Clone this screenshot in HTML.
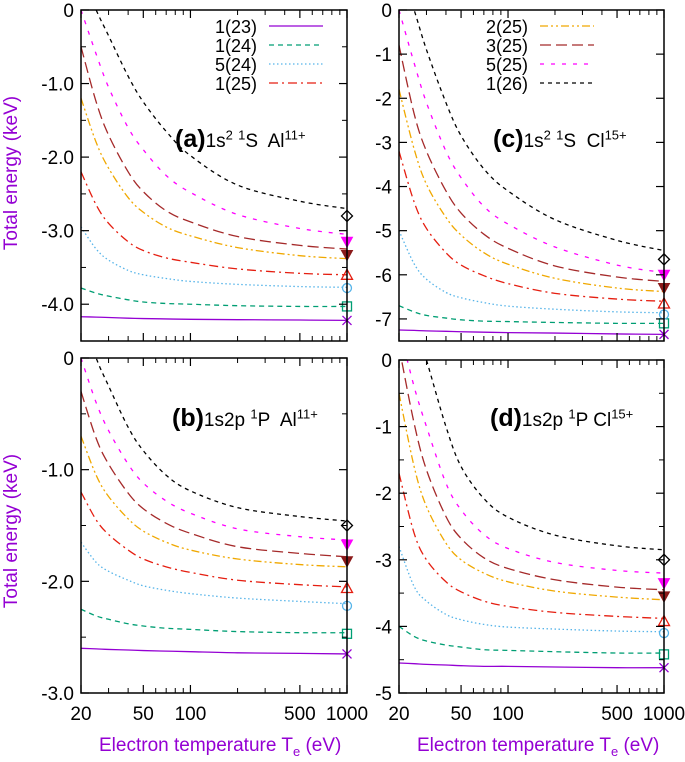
<!DOCTYPE html>
<html><head><meta charset="utf-8"><style>
html,body{margin:0;padding:0;background:#fff;}
svg{display:block;font-family:"Liberation Sans",sans-serif;}
</style></head><body>
<svg id="chart" width="685" height="762" viewBox="0 0 685 762" xmlns="http://www.w3.org/2000/svg"></svg>
<script>
const temps = [20,25,30,40,50,70,100,200,500,1000];
const seriesNames = ["1(23)","1(24)","5(24)","1(25)","2(25)","3(25)","5(25)","1(26)"];
const panelA = [
 [-4.17,-4.175,-4.18,-4.19,-4.195,-4.2,-4.205,-4.21,-4.215,-4.22],
 [-3.78,-3.85,-3.89,-3.94,-3.97,-3.99,-4.0,-4.02,-4.03,-4.03],
 [-2.95,-3.25,-3.4,-3.54,-3.6,-3.65,-3.69,-3.73,-3.76,-3.77],
 [-2.2,-2.65,-2.9,-3.15,-3.27,-3.37,-3.43,-3.52,-3.58,-3.6],
 [-1.2,-1.8,-2.15,-2.55,-2.75,-2.95,-3.07,-3.23,-3.34,-3.38],
 [-0.5,-1.25,-1.7,-2.2,-2.47,-2.73,-2.88,-3.08,-3.2,-3.25],
 [0,-0.6,-1.05,-1.6,-1.9,-2.25,-2.48,-2.78,-2.97,-3.05],
 [0.5,0,-0.35,-0.9,-1.25,-1.65,-1.98,-2.38,-2.6,-2.7]];
const panelB = [
 [-2.6,-2.605,-2.61,-2.615,-2.62,-2.625,-2.63,-2.64,-2.645,-2.65],
 [-2.25,-2.31,-2.34,-2.38,-2.4,-2.42,-2.43,-2.45,-2.46,-2.46],
 [-1.65,-1.83,-1.91,-1.99,-2.04,-2.08,-2.11,-2.15,-2.18,-2.2],
 [-1.2,-1.45,-1.58,-1.72,-1.8,-1.87,-1.92,-1.99,-2.03,-2.05],
 [-0.7,-1.05,-1.24,-1.44,-1.55,-1.65,-1.72,-1.8,-1.85,-1.87],
 [-0.3,-0.72,-0.95,-1.21,-1.35,-1.48,-1.57,-1.69,-1.75,-1.78],
 [0,-0.4,-0.65,-0.95,-1.12,-1.28,-1.39,-1.53,-1.6,-1.63],
 [0.4,0,-0.25,-0.62,-0.83,-1.05,-1.19,-1.34,-1.42,-1.46]];
const panelC = [
 [-7.25,-7.26,-7.27,-7.28,-7.29,-7.3,-7.31,-7.32,-7.34,-7.35],
 [-6.7,-6.84,-6.92,-6.98,-7.02,-7.05,-7.06,-7.08,-7.1,-7.1],
 [-5.0,-5.75,-6.1,-6.4,-6.52,-6.63,-6.71,-6.78,-6.84,-6.86],
 [-3.2,-4.35,-4.95,-5.5,-5.78,-6.02,-6.2,-6.42,-6.55,-6.6],
 [-1.8,-3.15,-3.95,-4.7,-5.1,-5.5,-5.76,-6.08,-6.3,-6.38],
 [-0.8,-2.35,-3.2,-4.1,-4.6,-5.08,-5.4,-5.8,-6.05,-6.15],
 [0,-1.2,-2.1,-3.2,-3.8,-4.45,-4.85,-5.37,-5.78,-5.95],
 [1,0,-0.9,-2.1,-2.85,-3.6,-4.1,-4.75,-5.22,-5.45]];
const panelD = [
 [-4.55,-4.56,-4.57,-4.58,-4.59,-4.6,-4.6,-4.61,-4.62,-4.62],
 [-4.0,-4.15,-4.22,-4.28,-4.31,-4.35,-4.36,-4.38,-4.4,-4.4],
 [-2.8,-3.4,-3.62,-3.82,-3.9,-3.97,-4.01,-4.04,-4.07,-4.08],
 [-1.7,-2.6,-3.0,-3.33,-3.48,-3.62,-3.7,-3.79,-3.85,-3.88],
 [-0.5,-1.6,-2.2,-2.75,-3.0,-3.2,-3.33,-3.47,-3.56,-3.6],
 [0.2,-0.95,-1.65,-2.35,-2.68,-2.97,-3.13,-3.3,-3.41,-3.45],
 [0.5,-0.4,-1.0,-1.85,-2.25,-2.62,-2.83,-3.04,-3.16,-3.2],
 [1.5,0.6,0,-1.0,-1.6,-2.08,-2.36,-2.63,-2.79,-2.85]];
const markersA = [-4.22,-4.03,-3.78,-3.6,-3.33,-3.15,-2.8];
const markersB = [-2.65,-2.47,-2.22,-2.06,-1.82,-1.67,-1.5];
const markersC = [-7.35,-7.1,-6.9,-6.65,-6.3,-6.0,-5.65];
const markersD = [-4.62,-4.42,-4.1,-3.92,-3.55,-3.35,-3.0];
const xTicks = [20,50,100,500,1000];
const xMinor = [30,40,60,70,80,90,200,300,400,600,700,800,900];

const colors = ["#9400d3","#009e73","#56b4e9","#e51e10","#f0a800","#a52a2a","#ff00ff","#000000"];
const dashes = ["","5,4","1.5,2.5","9,4,2,4","8,3,2,3,2,3","11,5","4,7","4,4"];
const NS="http://www.w3.org/2000/svg";
const svg=document.getElementById('chart');
function mk(tag,attrs,parent){const e=document.createElementNS(NS,tag);for(const k in attrs)e.setAttribute(k,attrs[k]);(parent||svg).appendChild(e);return e;}

const panels=[
 {id:'a',x0:81,x1:347,y0:10,y1:341,ymin:-4.5,major:[0,-1,-2,-3,-4],minor:[-0.5,-1.5,-2.5,-3.5,-4.5],fmt:1,data:panelA,mk:markersA,legend:[0,1,2,3],lx:257,ly:26},
 {id:'b',x0:81,x1:347,y0:358,y1:693,ymin:-3,major:[0,-1,-2,-3],minor:[-0.5,-1.5,-2.5],fmt:1,data:panelB,mk:markersB,xlabels:true},
 {id:'c',x0:399,x1:664,y0:10,y1:341,ymin:-7.5,major:[0,-1,-2,-3,-4,-5,-6,-7],minor:[],fmt:0,data:panelC,mk:markersC,legend:[4,5,6,7],lx:528,ly:26},
 {id:'d',x0:399,x1:664,y0:360,y1:693,ymin:-5,major:[0,-1,-2,-3,-4,-5],minor:[-0.5,-1.5,-2.5,-3.5,-4.5],fmt:0,data:panelD,mk:markersD,xlabels:true}];

function marker(g,i,x,y,c){
 const s=4.5;let e;
 if(i===0){e=mk('path',{d:`M${x-s} ${y-s}L${x+s} ${y+s}M${x-s} ${y+s}L${x+s} ${y-s}`,stroke:c,'stroke-width':1.3,fill:'none'},g);}
 else if(i===1){e=mk('rect',{x:x-s,y:y-s,width:2*s,height:2*s,stroke:c,'stroke-width':1.3,fill:'none'},g);}
 else if(i===2){e=mk('circle',{cx:x,cy:y,r:s,stroke:c,'stroke-width':1.3,fill:'none'},g);}
 else if(i===3){e=mk('path',{d:`M${x-s-1} ${y+s}L${x+s+1} ${y+s}L${x} ${y-s-1}Z`,stroke:c,'stroke-width':1.3,fill:'none'},g);}
 else if(i===4||i===5){e=mk('path',{d:`M${x-s-1} ${y-s}L${x+s+1} ${y-s}L${x} ${y+s+1}Z`,stroke:c,'stroke-width':1,fill:c},g);}
 else {e=mk('path',{d:`M${x} ${y-s-1}L${x+s+1} ${y}L${x} ${y+s+1}L${x-s-1} ${y}Z`,stroke:c,'stroke-width':1.3,fill:'none'},g);}
 
 
}
const markerColors=["#9400d3","#009e73","#56b4e9","#e51e10","#8b1a1a","#ff00ff","#000000"];

panels.forEach(p=>{
 const g=mk('g',{});
 
 
 const X=t=>p.x0+(Math.log(t/20)/Math.log(50))*(p.x1-p.x0);
 const Y=v=>p.y0+(v/p.ymin)*(p.y1-p.y0);
 const cp=mk('clipPath',{id:'clip'+p.id},g);
 mk('rect',{x:p.x0,y:p.y0,width:p.x1-p.x0,height:p.y1-p.y0},cp);
 p.data.forEach((vals,si)=>{
  const pts=temps.map((t,k)=>[X(t),Y(vals[k])]);
  let d=`M${pts[0][0]} ${pts[0][1]}`;
  for(let k=0;k<pts.length-1;k++){
   const p0=pts[Math.max(0,k-1)],p1=pts[k],p2=pts[k+1],p3=pts[Math.min(pts.length-1,k+2)];
   const c1=[p1[0]+(p2[0]-p0[0])/6,p1[1]+(p2[1]-p0[1])/6];
   const c2=[p2[0]-(p3[0]-p1[0])/6,p2[1]-(p3[1]-p1[1])/6];
   d+=`C${c1[0]} ${c1[1]} ${c2[0]} ${c2[1]} ${p2[0]} ${p2[1]}`;
  }
  const e=mk('path',{d:d,fill:'none',stroke:colors[si],'stroke-width':1.3,'stroke-dasharray':dashes[si],'clip-path':`url(#clip${p.id})`},g);
  
  
 });
 p.mk.forEach((v,i)=>marker(g,i,X(1000),Y(v),markerColors[i]));
 const fr=mk('rect',{x:p.x0,y:p.y0,width:p.x1-p.x0,height:p.y1-p.y0,fill:'none',stroke:'#000','stroke-width':1.5},g);
 
 
 p.major.forEach(v=>{
  const y=Y(v);
  mk('line',{x1:p.x0,x2:p.x0+8,y1:y,y2:y,stroke:'#000','stroke-width':1.2},g);
  mk('line',{x1:p.x1,x2:p.x1-8,y1:y,y2:y,stroke:'#000','stroke-width':1.2},g);
  const t=mk('text',{x:p.x0-7,y:y+7,'text-anchor':'end','font-size':19,fill:'#000'},g);
  t.textContent=v===0?'0':(p.fmt?v.toFixed(1):String(v));
  
  
 });
 p.minor.forEach(v=>{
  const y=Y(v);
  mk('line',{x1:p.x0,x2:p.x0+5,y1:y,y2:y,stroke:'#000','stroke-width':1},g);
  mk('line',{x1:p.x1,x2:p.x1-5,y1:y,y2:y,stroke:'#000','stroke-width':1},g);
 });
 xTicks.forEach(t=>{
  const x=X(t);
  mk('line',{x1:x,x2:x,y1:p.y1,y2:p.y1-8,stroke:'#000','stroke-width':1.2},g);
  mk('line',{x1:x,x2:x,y1:p.y0,y2:p.y0+8,stroke:'#000','stroke-width':1.2},g);
  if(p.xlabels){
   const tx=mk('text',{x:x,y:p.y1+27,'text-anchor':'middle','font-size':19,fill:'#000'},g);
   tx.textContent=String(t);
   
   
  }
 });
 xMinor.forEach(t=>{
  const x=X(t);
  mk('line',{x1:x,x2:x,y1:p.y1,y2:p.y1-5,stroke:'#000','stroke-width':1},g);
  mk('line',{x1:x,x2:x,y1:p.y0,y2:p.y0+5,stroke:'#000','stroke-width':1},g);
 });
 if(p.legend){
  p.legend.forEach((si,k)=>{
   const y=p.ly+k*19;
   const lg=mk('g',{},g);
   
   
   const t=mk('text',{x:p.lx,y:y+7,'text-anchor':'end','font-size':18,fill:'#000'},lg);
   t.textContent=seriesNames[si];
   mk('line',{x1:p.lx+12,x2:p.lx+66,y1:y,y2:y,stroke:colors[si],'stroke-width':1.3,'stroke-dasharray':dashes[si]},lg);
  });
 }
});
</script>
<div style="position:absolute;left:0;top:0;width:685px;height:762px;pointer-events:none;font-family:'Liberation Sans',sans-serif;">
 <div style="position:absolute;left:175px;top:125px;font-size:19px;white-space:nowrap;"><b style="font-size:25px">(a)</b>1s<sup style="font-size:13px">2</sup> <sup style="font-size:13px">1</sup>S&nbsp; Al<sup style="font-size:13px">11+</sup></div>
 <div style="position:absolute;left:172px;top:404px;font-size:19px;white-space:nowrap;"><b style="font-size:25px">(b)</b>1s2p <sup style="font-size:13px">1</sup>P&nbsp; Al<sup style="font-size:13px">11+</sup></div>
 <div style="position:absolute;left:493px;top:125px;font-size:19px;white-space:nowrap;"><b style="font-size:25px">(c)</b>1s<sup style="font-size:13px">2</sup> <sup style="font-size:13px">1</sup>S&nbsp; Cl<sup style="font-size:13px">15+</sup></div>
 <div style="position:absolute;left:490px;top:404px;font-size:19px;white-space:nowrap;"><b style="font-size:25px">(d)</b>1s2p <sup style="font-size:13px">1</sup>P Cl<sup style="font-size:13px">15+</sup></div>
 <div style="position:absolute;left:-68px;top:162px;width:160px;text-align:center;transform:rotate(-90deg);color:#9400d3;font-size:19px;white-space:nowrap;">Total energy (keV)</div>
 <div style="position:absolute;left:-68px;top:520px;width:160px;text-align:center;transform:rotate(-90deg);color:#9400d3;font-size:19px;white-space:nowrap;">Total energy (keV)</div>
 <div style="position:absolute;left:99px;top:735px;color:#9400d3;font-size:19px;white-space:nowrap;">Electron temperature T<sub style="font-size:13px">e</sub> (eV)</div>
 <div style="position:absolute;left:417px;top:735px;color:#9400d3;font-size:19px;white-space:nowrap;">Electron temperature T<sub style="font-size:13px">e</sub> (eV)</div>
</div>
</body></html>
